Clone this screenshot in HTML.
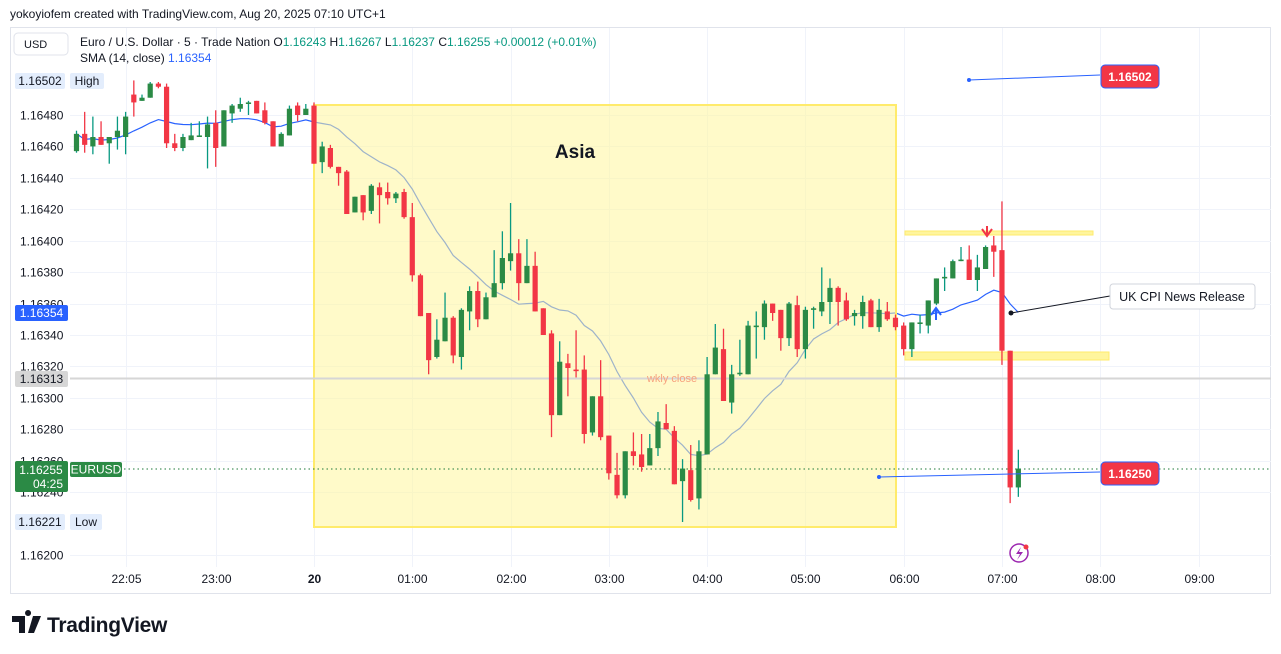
<!DOCTYPE html>
<html><head><meta charset="utf-8"><style>
body{margin:0;background:#fff;}
svg{display:block;font-family:"Liberation Sans",sans-serif;}
</style></head><body>
<svg id="c" width="1281" height="654" viewBox="0 0 1281 654" xmlns="http://www.w3.org/2000/svg">
<rect x="0" y="0" width="1281" height="654" fill="#fff"/>
<text x="10" y="18" font-size="12" fill="#131722">yokoyiofem created with TradingView.com, Aug 20, 2025 07:10 UTC+1</text>
<rect x="10.5" y="27.5" width="1260" height="566" fill="none" stroke="#e0e3eb"/>
<g id="grid"></g>
<g id="sma"></g>
<rect x="314" y="105" width="582" height="422" fill="#fff59d" fill-opacity="0.55" stroke="#ffeb6b" stroke-width="2"/>
<text x="575" y="158" font-size="19" font-weight="bold" text-anchor="middle" fill="#131722">Asia</text>
<line x1="70" y1="378.5" x2="1271" y2="378.5" stroke="#d6d6d6" stroke-width="2"/>
<text x="672" y="382" font-size="11" text-anchor="middle" fill="#f7a27e">wkly close</text>
<line x1="70" y1="469" x2="1271" y2="469" stroke="#1e7a3a" stroke-dasharray="1.5,3"/>
<rect x="905" y="231" width="188" height="4" fill="#fff59d" stroke="#ffeb6b"/>
<rect x="905" y="352" width="204" height="8" fill="#fff59d" stroke="#ffeb6b"/>
<g id="candles"></g>
<path d="M982,229 L987,236 L992,229 M987,236 L987,226" stroke="#f23645" stroke-width="2" fill="none"/>
<path d="M931,315 L936,308 L941,315 M936,308 L936,320" stroke="#2962ff" stroke-width="2" fill="none"/>
<line x1="969" y1="80" x2="1100" y2="75" stroke="#2962ff"/>
<circle cx="969" cy="80" r="2" fill="#2962ff"/>
<rect x="1101" y="65" width="58" height="23" rx="4" fill="#f23645" stroke="#2962ff"/>
<text x="1130" y="81" font-size="12" font-weight="bold" text-anchor="middle" fill="#fff">1.16502</text>
<line x1="879" y1="477" x2="1100" y2="472" stroke="#2962ff"/>
<circle cx="879" cy="477" r="2" fill="#2962ff"/>
<rect x="1101" y="462" width="58" height="23" rx="4" fill="#f23645" stroke="#2962ff"/>
<text x="1130" y="478" font-size="12" font-weight="bold" text-anchor="middle" fill="#fff">1.16250</text>
<line x1="1011" y1="313" x2="1110" y2="296" stroke="#131722"/>
<circle cx="1011" cy="313" r="2.5" fill="#131722"/>
<rect x="1110" y="284" width="145" height="25" rx="3" fill="#fff" stroke="#d1d4dc"/>
<text x="1182" y="301" font-size="12.5" text-anchor="middle" fill="#131722">UK CPI News Release</text>
<circle cx="1019" cy="553" r="9" fill="none" stroke="#9c27b0" stroke-width="1.5"/>
<path d="M1021,547 L1016,554 L1020,554 L1017,560 L1023,552 L1019,552 Z" fill="#9c27b0"/>
<circle cx="1026" cy="547" r="2.5" fill="#f23645"/>
<g id="axes"></g>
<rect x="14" y="33" width="54" height="22" rx="4" fill="#fff" stroke="#e0e3eb"/>
<text x="24" y="48" font-size="11" fill="#131722">USD</text>
<text x="80" y="46" font-size="12" fill="#131722">Euro / U.S. Dollar · 5 · Trade Nation <tspan fill="#131722">O</tspan><tspan fill="#089981">1.16243</tspan> <tspan>H</tspan><tspan fill="#089981">1.16267</tspan> <tspan>L</tspan><tspan fill="#089981">1.16237</tspan> <tspan>C</tspan><tspan fill="#089981">1.16255 +0.00012 (+0.01%)</tspan></text>
<text x="80" y="62" font-size="12" fill="#131722">SMA (14, close) <tspan fill="#2962ff">1.16354</tspan></text>
<g>
<path d="M12,616 h13 v17 h-6 v-11 h-7 Z M28,616 a3,3 0 1,1 0.1,0 Z" fill="#131722"/>
<path d="M33,616 h8 l-7,17 h-6 Z" fill="#131722"/>
<text x="47" y="632" font-size="21" font-weight="bold" fill="#131722" letter-spacing="-0.3">TradingView</text>
</g>
</svg>
<script>
const opens=[1.16457,1.16468,1.16460,1.16466,1.16462,1.16466,1.16466,1.16493,1.16489,1.16491,1.16500,1.16498,1.16462,1.16459,1.16464,1.16466,1.16466,1.16475,1.16460,1.16481,1.16484,1.16487,1.16489,1.16483,1.16476,1.16460,1.16467,1.16486,1.16480,
1.16486,1.16450,1.16459,1.16447,1.16444,1.16418,1.16429,1.16419,1.16434,1.16431,1.16427,1.16431,1.16415,1.16378,1.16354,1.16326,1.16336,1.16351,1.16326,1.16355,1.16368,1.16350,1.16364,1.16373,1.16387,1.16392,1.16373,1.16384,1.16357,1.16341,
1.16289,1.16322,1.16318,1.16318,1.16278,1.16301,1.16276,1.16251,1.16238,1.16266,1.16264,1.16257,1.16268,1.16284,1.16279,1.16247,1.16254,1.16236,1.16264,1.16315,1.16331,1.16297,1.16315,1.16315,1.16345,1.16345,1.16360,1.16356,1.16338,1.16359,
1.16331,1.16356,1.16355,1.16361,1.16370,1.16362,1.16352,1.16352,1.16362,1.16345,1.16355,1.16351,1.16346,1.16331,1.16347,1.16346,1.16360,1.16376,1.16376,1.16387,1.16388,1.16375,1.16382,1.16397,1.16394,1.16330,1.16243];
const highs=[1.16470,1.16482,1.16479,1.16476,1.16466,1.16479,1.16482,1.16502,1.16493,1.16501,1.16501,1.16500,1.16468,1.16468,1.16475,1.16476,1.16479,1.16483,1.16483,1.16487,1.16491,1.16489,1.16489,1.16488,1.16476,1.16469,1.16486,1.16488,1.16487,
1.16488,1.16463,1.16461,1.16447,1.16445,1.16428,1.16429,1.16436,1.16437,1.16437,1.16431,1.16433,1.16424,1.16379,1.16354,1.16350,1.16367,1.16352,1.16357,1.16371,1.16374,1.16367,1.16394,1.16406,1.16424,1.16401,1.16401,1.16393,1.16357,1.16343,
1.16336,1.16328,1.16343,1.16327,1.16301,1.16324,1.16276,1.16265,1.16266,1.16278,1.16277,1.16277,1.16291,1.16296,1.16282,1.16261,1.16270,1.16273,1.16326,1.16347,1.16344,1.16321,1.16337,1.16349,1.16355,1.16362,1.16360,1.16356,1.16361,1.16365,
1.16358,1.16358,1.16383,1.16376,1.16371,1.16367,1.16356,1.16365,1.16363,1.16363,1.16361,1.16353,1.16348,1.16348,1.16353,1.16362,1.16376,1.16383,1.16388,1.16396,1.16397,1.16391,1.16397,1.16403,1.16425,1.16330,1.16267];
const lows=[1.16456,1.16456,1.16455,1.16461,1.16449,1.16458,1.16455,1.16479,1.16489,1.16491,1.16497,1.16459,1.16457,1.16457,1.16464,1.16466,1.16446,1.16447,1.16460,1.16475,1.16482,1.16480,1.16481,1.16474,1.16460,1.16460,1.16467,1.16476,1.16480,
1.16449,1.16443,1.16446,1.16435,1.16417,1.16418,1.16413,1.16417,1.16411,1.16423,1.16424,1.16414,1.16374,1.16352,1.16315,1.16325,1.16336,1.16322,1.16318,1.16343,1.16345,1.16350,1.16364,1.16369,1.16381,1.16362,1.16373,1.16355,1.16340,1.16275,
1.16289,1.16301,1.16313,1.16271,1.16276,1.16273,1.16248,1.16236,1.16236,1.16257,1.16253,1.16257,1.16263,1.16280,1.16245,1.16221,1.16234,1.16229,1.16264,1.16315,1.16298,1.16290,1.16314,1.16315,1.16325,1.16337,1.16349,1.16330,1.16333,1.16326,
1.16325,1.16344,1.16352,1.16347,1.16346,1.16349,1.16346,1.16344,1.16345,1.16342,1.16349,1.16343,1.16327,1.16326,1.16341,1.16341,1.16359,1.16368,1.16376,1.16387,1.16375,1.16368,1.16382,1.16377,1.16321,1.16233,1.16237];
const closes=[1.16468,1.16461,1.16466,1.16461,1.16466,1.16470,1.16479,1.16488,1.16491,1.16500,1.16498,1.16462,1.16459,1.16466,1.16467,1.16467,1.16474,1.16459,1.16483,1.16486,1.16487,1.16488,1.16481,1.16475,1.16460,1.16468,1.16484,1.16480,1.16484,
1.16449,1.16460,1.16447,1.16443,1.16417,1.16428,1.16418,1.16435,1.16429,1.16427,1.16430,1.16415,1.16378,1.16352,1.16324,1.16337,1.16351,1.16327,1.16356,1.16368,1.16350,1.16364,1.16373,1.16389,1.16392,1.16373,1.16384,1.16355,1.16340,1.16289,
1.16323,1.16319,1.16317,1.16277,1.16301,1.16275,1.16252,1.16238,1.16266,1.16263,1.16256,1.16268,1.16285,1.16280,1.16245,1.16255,1.16235,1.16266,1.16315,1.16332,1.16298,1.16315,1.16316,1.16346,1.16346,1.16360,1.16354,1.16338,1.16360,1.16331,
1.16356,1.16357,1.16361,1.16370,1.16361,1.16350,1.16354,1.16361,1.16345,1.16356,1.16350,1.16345,1.16331,1.16348,1.16348,1.16362,1.16376,1.16377,1.16387,1.16388,1.16375,1.16383,1.16396,1.16393,1.16330,1.16243,1.16255];
const priceTicks=[1.16480,1.16460,1.16440,1.16420,1.16400,1.16380,1.16360,1.16340,1.16320,1.16300,1.16280,1.16260,1.16240,1.16200];
const timeTickLabels=["22:05","23:00","20","01:00","02:00","03:00","04:00","05:00","06:00","07:00","08:00","09:00"];
const timeTickMinutes=[-115,-60,0,60,120,180,240,300,360,420,480,540];
const firstCandleMinutes=-145;
const smaPeriod=14;

const NS="http://www.w3.org/2000/svg";
function yOf(p){return 115+(1.16480-p)*157143;}
function xOfMin(m){return 314+m/5*8.19;}
function xOfIdx(i){return xOfMin(firstCandleMinutes+i*5);}
function mk(tag,attrs,parent){const e=document.createElementNS(NS,tag);for(const k in attrs)e.setAttribute(k,attrs[k]);parent.appendChild(e);return e;}
const grid=document.getElementById('grid'),axes=document.getElementById('axes');
priceTicks.forEach(function(p){
  const y=Math.round(yOf(p))+0.5;
  const l=mk('line',{x1:70,x2:1271,y1:y,y2:y,stroke:'#f0f3fa'},grid);
  
  
  const t=mk('text',{x:20,y:y+4,'font-size':12,fill:'#131722'},axes);
  t.textContent=p.toFixed(5);
  
  
});
timeTickMinutes.forEach(function(m,i){
  const x=Math.round(xOfMin(m))+0.5;
  const l=mk('line',{x1:x,x2:x,y1:28,y2:567,stroke:'#f0f3fa'},grid);
  
  
  const t=mk('text',{x:x,y:583,'font-size':12,'text-anchor':'middle',fill:'#131722','font-weight':timeTickLabels[i]==='20'?'bold':'normal'},axes);
  t.textContent=timeTickLabels[i];
  
  
});
const smaG=document.getElementById('sma');let pts=[];
for(let i=0;i<closes.length;i++){let s=0,n=0;for(let j=Math.max(0,i-smaPeriod+1);j<=i;j++){s+=closes[j];n++;}pts.push(xOfIdx(i).toFixed(1)+','+yOf(s/n).toFixed(1));}
const sp=mk('polyline',{points:pts.join(' '),fill:'none',stroke:'#2962ff','stroke-width':1.2},smaG);


const cg=document.getElementById('candles');
for(let i=0;i<opens.length;i++){
  const x=xOfIdx(i),up=closes[i]>=opens[i];
  const wc=up?'#089981':'#f23645',bc=up?'#2b8a45':'#f23645';
  const w=mk('line',{x1:x,x2:x,y1:yOf(highs[i]),y2:yOf(lows[i]),stroke:wc,'stroke-width':1.3},cg);
  
  
  const top=yOf(Math.max(opens[i],closes[i])),bot=yOf(Math.min(opens[i],closes[i]));
  const b=mk('rect',{x:x-2.6,y:top,width:5.2,height:Math.max(1.2,bot-top),fill:bc},cg);
  
  
}
function badge(x,y,w,h,fill,txt,col,name,bold){
  const r=mk('rect',{x:x,y:y,width:w,height:h,rx:2,fill:fill},axes);
  
  
  const t=mk('text',{x:x+w/2,y:y+h/2+4,'font-size':12,'text-anchor':'middle',fill:col,'font-weight':bold?'bold':'normal'},axes);
  t.textContent=txt;
  
  
}
badge(15,73,50,16,'#e3edfc','1.16502','#131722','high-price-label');
badge(70,73,34,16,'#e3edfc','High','#131722','high-badge');
badge(15,305,53,16,'#2962ff','1.16354','#fff','sma-price-label');
badge(15,371,53,16,'#d6d6d6','1.16313','#131722','weekly-close-price-label');
badge(15,461,53,31,'#2b8a45','','#fff','last-price-label');
const t1=mk('text',{x:41,y:474,'font-size':12,'text-anchor':'middle',fill:'#fff'},axes);t1.textContent='1.16255';


const t2=mk('text',{x:48,y:488,'font-size':12,'text-anchor':'middle',fill:'#fff'},axes);t2.textContent='04:25';


badge(70,462,52,15,'#2b8a45','EURUSD','#fff','symbol-badge');
badge(15,514,50,16,'#e3edfc','1.16221','#131722','low-price-label');
badge(70,514,32,16,'#e3edfc','Low','#131722','low-badge');
</script>
</body></html>
